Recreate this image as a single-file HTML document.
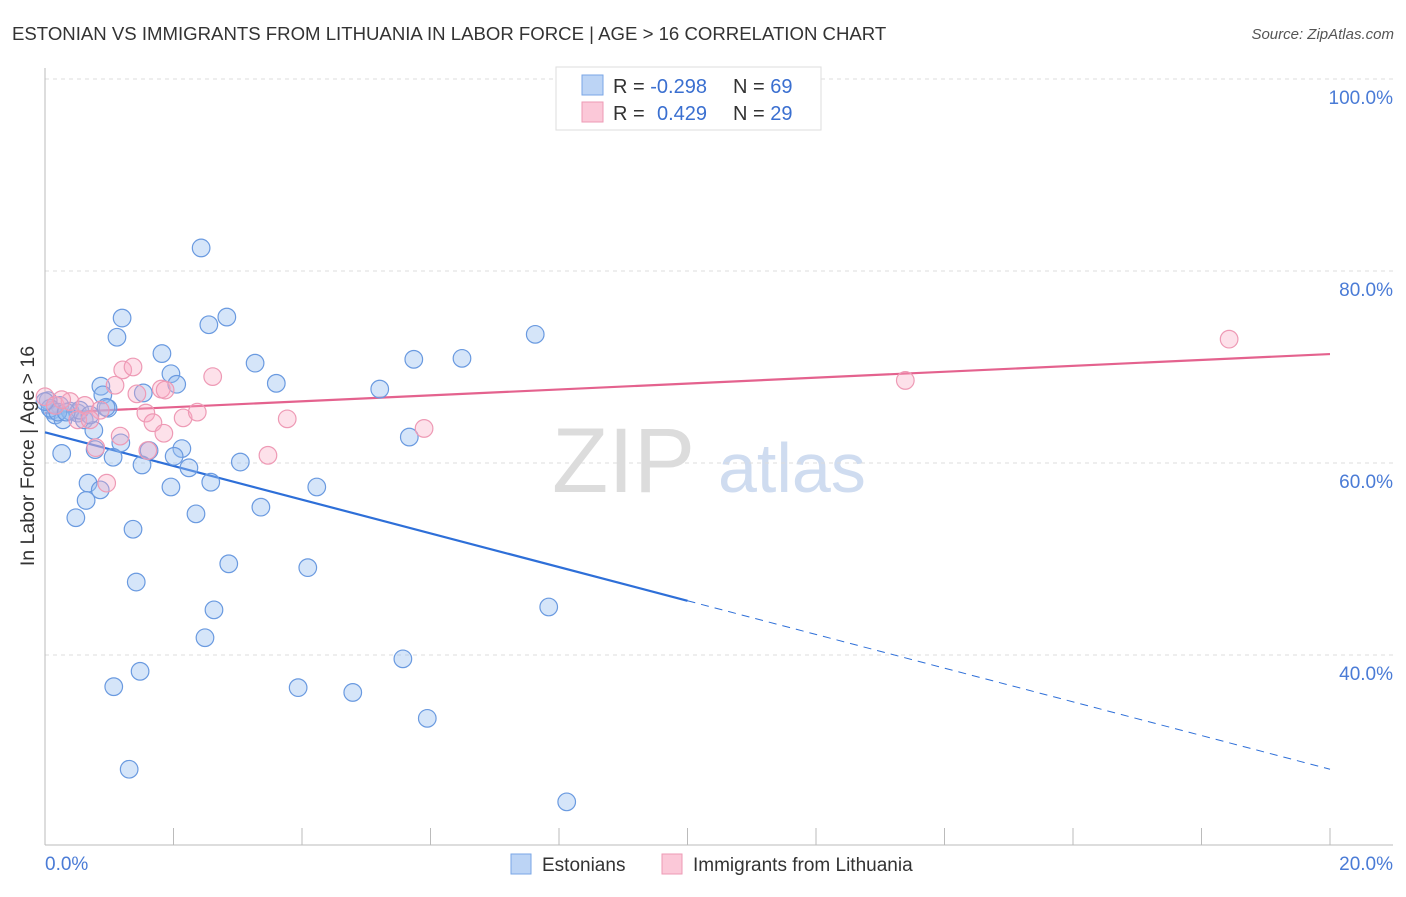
<!DOCTYPE html>
<html><head><meta charset="utf-8"><style>
body{margin:0;background:#fff;font-family:"Liberation Sans",sans-serif;}
svg text{font-family:"Liberation Sans",sans-serif;}
</style></head><body>
<svg id="chart" width="1406" height="892" xmlns="http://www.w3.org/2000/svg">
<text x="12" y="40" font-size="18.6" fill="#333">ESTONIAN VS IMMIGRANTS FROM LITHUANIA IN LABOR FORCE | AGE &gt; 16 CORRELATION CHART</text>
<text x="1394" y="39" font-size="15" fill="#555" font-style="italic" text-anchor="end">Source: ZipAtlas.com</text>
<g>
<text x="552" y="492" font-size="92" fill="#dcdcdc" font-family="Liberation Serif">ZIP</text>
<text x="718" y="492" font-size="70" fill="#cfdcf0">atlas</text>
</g>
<g id="grid"></g><g id="axes"></g>
<g id="lines"></g><g id="pts"></g>
<g>
<rect x="556" y="67" width="265" height="63" fill="#fff" stroke="#ddd"/>
<rect x="582" y="75" width="21" height="20" fill="#bcd4f5" stroke="#7aa6e6"/>
<rect x="582" y="102" width="21" height="20" fill="#fbc8d8" stroke="#ee9ab5"/>
<text x="613" y="93" font-size="20" fill="#333">R = <tspan fill="#3a6fd0">-0.298</tspan><tspan x="733">N = </tspan><tspan fill="#3a6fd0">69</tspan></text>
<text x="613" y="120" font-size="20" fill="#333">R = <tspan x="657" fill="#3a6fd0">0.429</tspan><tspan x="733">N = </tspan><tspan fill="#3a6fd0">29</tspan></text>
</g>
<g>
<rect x="511" y="854" width="20" height="20" fill="#bcd4f5" stroke="#7aa6e6"/>
<text x="542" y="871" font-size="19" fill="#333">Estonians</text>
<rect x="662" y="854" width="20" height="20" fill="#fbc8d8" stroke="#ee9ab5"/>
<text x="693" y="871" font-size="19" fill="#333">Immigrants from Lithuania</text>
</g>
<text transform="translate(34,456) rotate(-90)" font-size="19.5" fill="#333" text-anchor="middle">In Labor Force | Age &gt; 16</text>
</svg>
<script>
const xTicks=[0,20];
const xTickLabels=["0.0%","20.0%"];
const yTicks=[100,80,60,40];
const yTickLabels=["100.0%","80.0%","60.0%","40.0%"];
const blueX=[2.43,1.20,1.12,2.55,2.83,1.82,3.27,1.96,2.05,3.60,0.87,0.90,1.53,0.98,0.95,0.23,0.11,0.05,0.16,0.28,0.39,0.51,0.61,0.76,0.78,1.18,1.06,1.62,2.13,2.01,0.26,1.51,2.24,3.04,2.58,1.96,0.67,0.86,0.64,0.48,2.35,3.36,4.23,1.37,2.86,4.09,1.42,2.63,2.49,1.48,1.07,3.94,4.79,5.57,5.95,1.31,8.12,7.84,5.67,5.21,5.74,6.49,7.63,0.08,0.20,0.54,0.33,0.0,0.70];
const blueY=[82.4,75.1,73.1,74.4,75.2,71.4,70.4,69.3,68.2,68.3,68.0,67.1,67.3,65.7,65.8,66.0,65.5,66.5,65.0,64.5,65.4,65.2,64.5,63.4,61.4,62.1,60.6,61.3,61.5,60.7,61.0,59.8,59.5,60.1,58.0,57.5,57.9,57.2,56.1,54.3,54.7,55.4,57.5,53.1,49.5,49.1,47.6,44.7,41.8,38.3,36.7,36.6,36.1,39.6,33.4,28.1,24.7,45.0,62.7,67.7,70.8,70.9,73.4,65.7,65.3,65.5,65.3,66.4,65.0];
const pinkX=[0.0,0.16,0.39,0.62,0.86,1.21,1.37,1.09,1.43,1.81,1.57,1.68,1.85,2.15,2.37,2.61,1.17,1.60,0.79,0.96,3.47,3.77,5.90,13.39,18.43,0.51,0.26,0.70,1.87];
const pinkY=[66.9,66.0,66.4,66.0,65.5,69.7,70.0,68.1,67.2,67.7,65.2,64.2,63.1,64.7,65.3,69.0,62.8,61.3,61.6,57.9,60.8,64.6,63.6,68.6,72.9,64.5,66.6,64.5,67.6];
const blueFit=[63.2,28.1];
const pinkFit=[65.2,71.35];
const blueSolidEnd=10;
const NS="http://www.w3.org/2000/svg";
const sx=v=>45+v*64.25, sy=v=>79+(100-v)*9.6;
function mk(tag,attrs,parent){const e=document.createElementNS(NS,tag);for(const k in attrs)e.setAttribute(k,attrs[k]);document.getElementById(parent).appendChild(e);return e;}
yTicks.forEach((t,i)=>{
 const g=mk('line',{x1:45,x2:1393,y1:sy(t),y2:sy(t),stroke:'#ddd','stroke-dasharray':'4,4'},'grid');
 
 
 const l=mk('text',{x:1393,y:sy(t)+25,'font-size':19,fill:'#4a7bd6','text-anchor':'end'},'grid');
 l.textContent=yTickLabels[i];
 
 
});
const ax=mk('line',{x1:45,x2:45,y1:68,y2:845,stroke:'#bbb'},'axes');


const bx=mk('line',{x1:45,x2:1393,y1:845,y2:845,stroke:'#bbb'},'axes');


for(let i=0;i<=10;i++){const t=mk('line',{x1:sx(i*2),x2:sx(i*2),y1:828,y2:845,stroke:'#bbb'},'axes');
 
 }
xTicks.forEach((t,i)=>{const l=mk('text',{x:sx(t)+(i==0?0:63),y:870,'font-size':19,fill:'#4a7bd6','text-anchor':i==0?'start':'end'},'axes');
 l.textContent=xTickLabels[i];
 
 });
function dot(x,y,fill,stroke,name){const c=mk('circle',{cx:sx(x),cy:sy(y),r:8.8,fill:fill,stroke:stroke,'stroke-width':1.2},'pts');
 
 }
blueX.forEach((x,i)=>dot(x,blueY[i],'rgba(150,190,240,0.4)','#6a9ae0','estonian-point'));
pinkX.forEach((x,i)=>dot(x,pinkY[i],'rgba(248,170,195,0.35)','#ee9ab5','lithuania-point'));
const bm=blueFit[0]+(blueFit[1]-blueFit[0])*blueSolidEnd/20;
const b1=mk('line',{x1:sx(0),y1:sy(blueFit[0]),x2:sx(blueSolidEnd),y2:sy(bm),stroke:'#2e6fd8','stroke-width':2.2},'lines');


const b2=mk('line',{x1:sx(blueSolidEnd),y1:sy(bm),x2:sx(20),y2:sy(blueFit[1]),stroke:'#2e6fd8','stroke-width':1,'stroke-dasharray':'8,6'},'lines');


const p1=mk('line',{x1:sx(0),y1:sy(pinkFit[0]),x2:sx(20),y2:sy(pinkFit[1]),stroke:'#e4628e','stroke-width':2.2},'lines');


</script>
</body></html>
